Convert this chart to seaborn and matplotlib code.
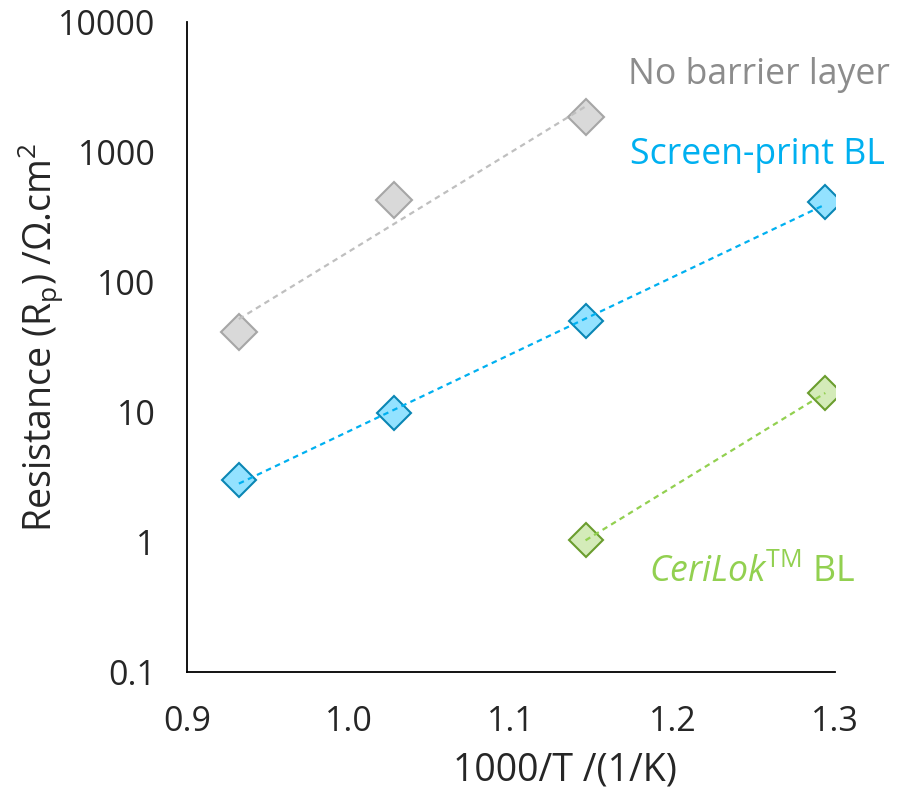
import numpy as np
import pandas as pd
import matplotlib
matplotlib.use("Agg")
import matplotlib.pyplot as plt
import seaborn as sns
from matplotlib.ticker import LogLocator, FixedLocator, NullFormatter

# valores
x_sem_barreira = [0.932, 1.028, 1.146]
rp_sem_barreira = [41, 430, 1850]

x_screen = [0.932, 1.028, 1.146, 1.294]
rp_screen = [3.0, 9.8, 50, 412]

x_cerilok = [1.146, 1.294]
rp_cerilok = [1.03, 14]

x_ticks = [0.9, 1.0, 1.1, 1.2, 1.3]
x_tick_labels = ["0.9", "1.0", "1.1", "1.2", "1.3"]
y_ticks = [0.1, 1, 10, 100, 1000, 10000]
y_tick_labels = ["0.1", "1", "10", "100", "1000", "10000"]

series = [
    # (x, y, cor linha, preenchimento, borda, tamanho)
    (x_sem_barreira, rp_sem_barreira, "#BFBFBF", "#D9D9D9", "#A6A6A6", 18),
    (x_screen, rp_screen, "#00B0F0", "#93E2FF", "#0A86B4", 17),
    (x_cerilok, rp_cerilok, "#92D050", "#D4EBB9", "#6A9D2E", 17),
]

FONTE = "Open Sans"
TAM_TICK = 24.5
TAM_LABEL = 27
TAM_TEXTO = 25.7

sns.set_style("white")
plt.rcParams["font.family"] = [FONTE, "DejaVu Sans"]
plt.rcParams["mathtext.fontset"] = "custom"
plt.rcParams["mathtext.rm"] = FONTE
plt.rcParams["mathtext.it"] = FONTE + ":italic"
plt.rcParams["mathtext.default"] = "regular"

fig = plt.figure(figsize=(9.11, 8.05), dpi=100)
ax = fig.add_axes([0.2053, 0.1652, 0.7113, 0.8075])

for xs, ys, cor_linha, cor_fill, cor_borda, ms in series:
    df = pd.DataFrame({"x": xs, "y": ys})
    sns.lineplot(data=df, x="x", y="y", ax=ax, linestyle="none", marker="D",
                 markersize=ms, markerfacecolor=cor_fill, markeredgecolor=cor_borda,
                 markeredgewidth=1.5, zorder=2)
    # linha de tendencia exponencial
    coef = np.polyfit(df["x"], np.log10(df["y"]), 1)
    xf = np.array([df["x"].min(), df["x"].max()])
    df_fit = pd.DataFrame({"x": xf, "y": 10 ** np.polyval(coef, xf)})
    sns.lineplot(data=df_fit, x="x", y="y", ax=ax, color=cor_linha, linewidth=1.6,
                 dashes=False, linestyle=(0, (2.5, 2)), zorder=3)

ax.set_yscale("log")
ax.set_xlim(0.9, 1.3)
ax.set_ylim(0.1, 10000)

ax.xaxis.set_major_locator(FixedLocator(x_ticks))
ax.set_xticklabels(x_tick_labels)
ax.xaxis.set_minor_locator(FixedLocator([0.95, 1.05, 1.15, 1.25]))
ax.yaxis.set_major_locator(FixedLocator(y_ticks))
ax.set_yticklabels(y_tick_labels)
ax.yaxis.set_minor_locator(LogLocator(base=10, subs=np.arange(2, 10), numticks=20))
ax.yaxis.set_minor_formatter(NullFormatter())

ax.tick_params(axis="both", which="major", direction="out", length=8.5, width=1.3,
               color="black", labelsize=TAM_TICK, labelcolor="#262626")
ax.tick_params(axis="y", which="major", pad=14)
ax.tick_params(axis="x", which="major", pad=15)
ax.tick_params(axis="y", which="minor", direction="out", length=5.5, width=1.3, color="black")
ax.tick_params(axis="x", which="minor", direction="out", length=6.5, width=1.3, color="black")

for s in ["top", "right"]:
    ax.spines[s].set_visible(False)
for s in ["left", "bottom"]:
    ax.spines[s].set_color("black")
    ax.spines[s].set_linewidth(1.3)

ax.set_xlabel("1000/T /(1/K)", fontsize=TAM_LABEL, color="#262626")
ax.xaxis.set_label_coords(0.583, -0.122)
ax.set_ylabel("Resistance (R$_{p}$) /Ω.cm$^{2}$", fontsize=TAM_LABEL, color="#262626")
ax.yaxis.set_label_coords(-0.187, 0.515)

ax.text(1.085, 0.918, "No barrier layer", transform=ax.transAxes, ha="right", va="center",
        fontsize=TAM_TEXTO, color="#8C8C8C", clip_on=False)
ax.text(1.077, 0.795, "Screen-print BL", transform=ax.transAxes, ha="right", va="center",
        fontsize=TAM_TEXTO, color="#00B0F0", clip_on=False)
ax.text(1.031, 0.152, "$\\it{CeriLok}$$^{TM}$ BL", transform=ax.transAxes, ha="right",
        va="center", fontsize=TAM_TEXTO, color="#92D050", clip_on=False)

plt.savefig("out.png", dpi=100)
